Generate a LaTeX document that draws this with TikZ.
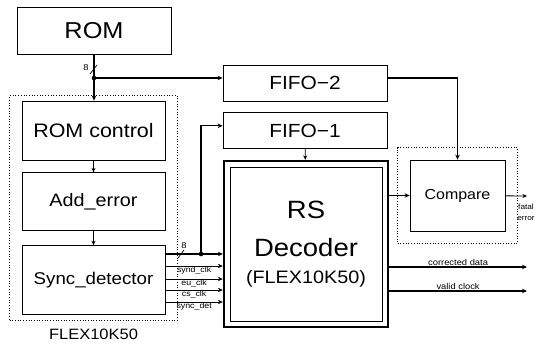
\documentclass[tikz,border=0pt]{standalone}
\usepackage{fontspec}
\setmainfont{Liberation Sans}[FakeStretch=1.1]
\usetikzlibrary{arrows.meta, positioning, fit}

\begin{document}
\begin{tikzpicture}[
    x=1pt, y=-1pt,
    block/.style={rectangle, draw, line width=0.8pt, minimum width=143pt, minimum height=58pt, inner sep=0pt, align=center, font=\fontsize{17}{19}\selectfont},
    fifo/.style={block, minimum width=164pt, minimum height=36pt, font=\fontsize{19}{21}\selectfont},
    chip/.style={draw, dotted, line width=0.7pt},
    arrow/.style={-{Stealth[length=5pt, width=4.5pt]}, line width=1.1pt},
    thinarrow/.style={-{Stealth[length=4.5pt, width=4pt]}, line width=0.8pt},
    sig/.style={font=\fontsize{8}{9}\selectfont, inner sep=0.3pt},
    note/.style={font=\fontsize{8.5}{9.5}\selectfont, inner sep=1pt}
]
\useasboundingbox (0,0) rectangle (541,347);

% Blocks on the left
\node[block, minimum width=154pt, minimum height=47pt, font=\fontsize{23}{25}\selectfont] (rom) at (94,30.5) {ROM};
\node[block, minimum height=59pt, font=\fontsize{19.5}{21}\selectfont] (romctl) at (93.5,130.5) {ROM control};
\node[block, below=12pt of romctl, font=\fontsize{18}{20}\selectfont] (adderr) {Add\_error};
\node[block, below=14pt of adderr, minimum height=69pt] (syncdet) {Sync\_detector};

% FIFOs
\node[fifo] (fifotwo) at (305,83) {FIFO−2};
\node[fifo, below=11pt of fifotwo] (fifoone) {FIFO−1};

% Decoder (double frame)
\node[draw, line width=0.9pt, minimum width=152pt, minimum height=154pt, align=center, font=\fontsize{25}{38}\selectfont] (dec) at (306,244)
    {RS\\Decoder\\[-11pt]{\fontsize{18}{20}\selectfont (FLEX10K50)}};
\node[draw, line width=2.4pt, fit=(dec), inner sep=5.5pt] (decout) {};

% Compare
\node[block, minimum width=95pt, minimum height=71pt, font=\fontsize{14.5}{16}\selectfont] (cmp) at (457.5,195.5) {Compare};
\node[chip, fit=(cmp), inner sep=12pt] (cmpbox) {};

% FPGA frame
\node[chip, fit=(romctl.north west)(syncdet.south east), inner xsep=12pt, inner ysep=5pt] (flex) {};
\node[below=8pt of flex, inner sep=0pt, font=\fontsize{15}{16}\selectfont] (flexlbl) {FLEX10K50};

% ROM bus
\coordinate (romtap) at (94,78);
\draw[line width=1.1pt] (rom.south) -- (romtap);
\draw[arrow] (romtap) -- (romctl.north -| romtap);
\draw[arrow] (romtap) -- (romtap -| fifotwo.west);
\fill (romtap) circle (2.3pt);
\draw[line width=0.7pt] (90,74) -- (97,65);
\node[note] at (86,68) {8};

\draw[thinarrow] (romctl) -- (adderr);
\draw[thinarrow] (adderr) -- (syncdet);

% Sync_detector to decoder
\coordinate (synctap) at (201,254);
\draw[arrow] (syncdet.east |- synctap) -- (synctap -| decout.west);
\draw[arrow] (synctap) |- ([yshift=5pt]fifoone.west);
\fill (synctap) circle (2.3pt);
\draw[line width=0.7pt] (178,258) -- (184,250);
\node[note] at (184,246) {8};
\foreach \y/\lbl in {266/synd\_clk, 279/eu\_clk, 290/cs\_clk, 302/sync\_det} {
  \draw[arrow, line width=0.9pt] (syncdet.east |- 0,\y) -- (decout.west |- 0,\y) node[sig, below, midway] {\lbl};
}

% Decoder and FIFOs to compare
\draw[thinarrow] (fifoone) -- (decout);
\draw[arrow] ([yshift=5pt]fifotwo.east) -| (cmp.north);
\draw[arrow] (decout.east |- cmp.west) -- (cmp.west);

% Outputs
\coordinate (fatal) at (527,196);
\coordinate (cdout) at (527,267);
\coordinate (vcout) at (527,291);
\draw[thinarrow] (cmp) -- (fatal);
\node[note, align=center, font=\fontsize{7.5}{11}\selectfont] at (526,212) {fatal\\error};
\draw[arrow] (decout.east |- cdout) -- (cdout) node[note, above, midway] {corrected data};
\draw[arrow] (decout.east |- vcout) -- (vcout) node[note, above, midway] {valid clock};

\end{tikzpicture}
\end{document}
